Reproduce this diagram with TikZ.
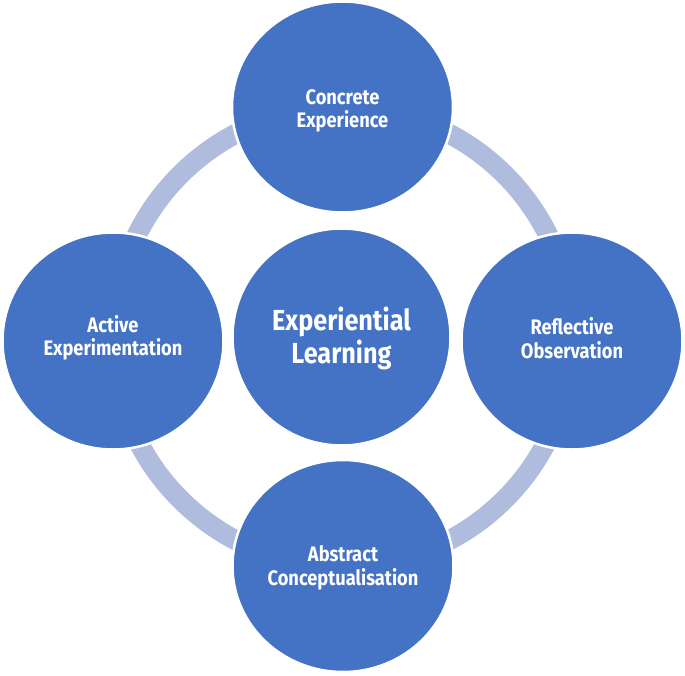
\documentclass[tikz,border=0pt]{standalone}
\usepackage{fontspec}
\setmainfont{Fira Sans}[FakeStretch=0.87]
\usetikzlibrary{shapes.geometric}
\definecolor{bluefill}{RGB}{68,114,196}
\definecolor{ringcol}{RGB}{175,188,222}
\tikzset{
  stage/.style={ellipse, fill=bluefill, draw=white, line width=2.5pt, inner sep=0pt},
  stagetext/.style={text=white, font=\fontsize{21}{23.5}\selectfont\bfseries, align=center, inner sep=0pt},
  hubtext/.style={stagetext, font=\fontsize{29}{33}\selectfont\bfseries}
}
\begin{document}
\begin{tikzpicture}[x=1pt,y=-1pt]
\useasboundingbox (0,0) rectangle (685,675);
\coordinate (ringc) at (342.5,337);
\draw[ringcol, line width=20pt] (ringc) ellipse [x radius=229.5, y radius=229.5];
\node[stage, minimum width=221pt, minimum height=211pt] (ce) at (342.5,107) {};
\node[stage, minimum width=221pt, minimum height=217pt] (ro) at (572,341) {};
\node[stage, minimum width=221pt, minimum height=212pt] (ac) at (343,566) {};
\node[stage, minimum width=221pt, minimum height=217pt] (ae) at (113,341) {};
\node[stage, minimum width=218pt, minimum height=217pt] (el) at (341.5,337) {};
\node[stagetext] (cet) at (342.5,111) {Concrete\\Experience};
\node[stagetext] (rot) at (572,338) {Reflective\\Observation};
\node[stagetext] (act) at (343,568) {Abstract\\Conceptualisation};
\node[stagetext] (aet) at (113,338) {Active\\Experimentation};
\node[hubtext] (elt) at (341.5,338) {Experiential\\Learning};
\end{tikzpicture}
\end{document}
